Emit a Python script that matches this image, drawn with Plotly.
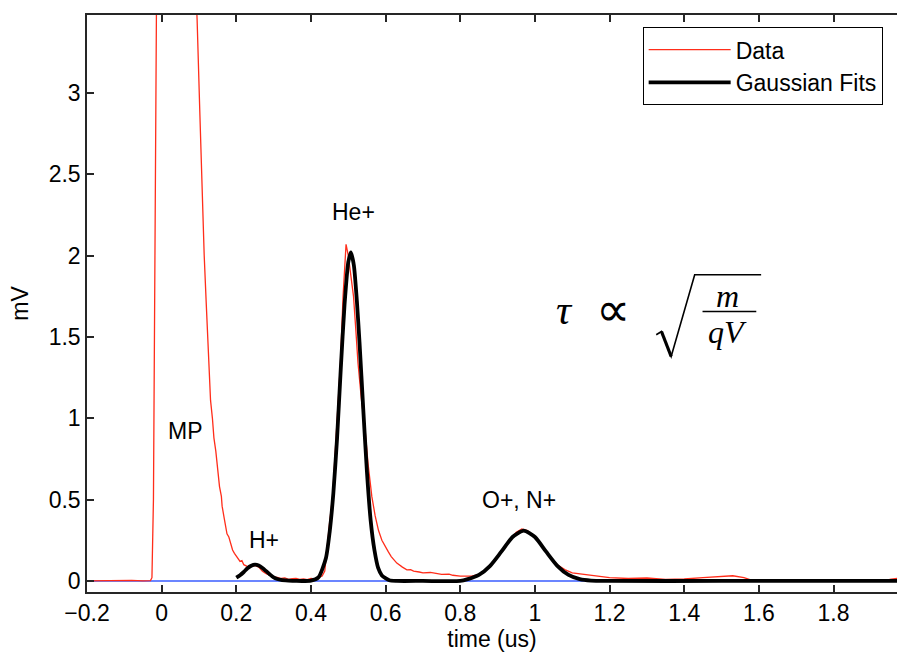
import plotly.graph_objects as go

# ---- Data ----
data_t = [-0.2, -0.16, -0.12, -0.08, -0.05, -0.03, -0.026, -0.022, -0.018, -0.014, -0.01,
          0.02, 0.06, 0.085, 0.095, 0.102, 0.109, 0.114, 0.119, 0.125, 0.131, 0.136,
          0.140, 0.145, 0.149, 0.155, 0.160, 0.162, 0.168, 0.175, 0.180, 0.185, 0.190,
          0.195, 0.202, 0.210, 0.215, 0.220, 0.229, 0.235, 0.240, 0.250, 0.260, 0.270,
          0.280, 0.290, 0.300, 0.310, 0.320, 0.330, 0.340, 0.350, 0.360, 0.370, 0.380,
          0.390, 0.400, 0.410, 0.420, 0.430, 0.437, 0.443, 0.450, 0.458, 0.468, 0.479,
          0.486, 0.494, 0.500, 0.507, 0.514, 0.520, 0.526, 0.535, 0.545, 0.553, 0.563,
          0.572, 0.581, 0.590, 0.599, 0.607, 0.615, 0.622, 0.630, 0.645, 0.657, 0.667,
          0.675, 0.690, 0.700, 0.720, 0.740, 0.750, 0.770, 0.780, 0.800, 0.820, 0.830,
          0.850, 0.870, 0.890, 0.910, 0.930, 0.950, 0.965, 0.980, 1.000, 1.020, 1.040,
          1.060, 1.080, 1.100, 1.130, 1.160, 1.200, 1.250, 1.300, 1.350, 1.400, 1.450,
          1.480, 1.500, 1.530, 1.560, 1.580, 1.650, 1.700, 1.800, 1.900, 1.950, 1.980]
data_mv = [0.0, 0.002, 0.0, 0.003, 0.0, 0.002, 0.02, 0.5, 2.0, 3.8, 5.0,
           6.0, 5.5, 4.0, 3.45, 2.9, 2.34, 2.0, 1.73, 1.40, 1.11, 1.0,
           0.88, 0.80, 0.70, 0.58, 0.52, 0.46, 0.38, 0.29, 0.27, 0.22, 0.19,
           0.17, 0.15, 0.12, 0.125, 0.10, 0.09, 0.08, 0.09, 0.095, 0.085, 0.06,
           0.045, 0.035, 0.025, 0.022, 0.015, 0.018, 0.01, 0.014, 0.015, 0.01, 0.012,
           0.008, 0.015, 0.012, 0.02, 0.03, 0.06, 0.21, 0.36, 0.52, 0.93, 1.34,
           1.75, 2.07, 2.0, 1.88, 1.75, 1.55, 1.34, 1.12, 0.93, 0.72, 0.52,
           0.40, 0.31, 0.25, 0.21, 0.18, 0.15, 0.13, 0.11, 0.085, 0.068, 0.07,
           0.06, 0.055, 0.05, 0.052, 0.045, 0.04, 0.042, 0.035, 0.03, 0.033, 0.03,
           0.04, 0.07, 0.12, 0.18, 0.25, 0.30, 0.32, 0.31, 0.27, 0.21, 0.15,
           0.10, 0.07, 0.05, 0.04, 0.03, 0.02, 0.015, 0.018, 0.01, 0.012, 0.02,
           0.025, 0.03, 0.032, 0.02, 0.005, 0.006, 0.003, 0.005, 0.004, 0.01, 0.018]

fit_t = [0.20, 0.21, 0.22, 0.23, 0.24, 0.25, 0.26, 0.27, 0.28, 0.29, 0.30, 0.31, 0.32,
         0.34, 0.36, 0.40, 0.42, 0.44, 0.45, 0.46, 0.47, 0.48, 0.49, 0.50, 0.507, 0.515,
         0.523, 0.53, 0.54, 0.55, 0.56, 0.57, 0.58, 0.59, 0.61, 0.63, 0.70, 0.80, 0.82,
         0.85, 0.88, 0.91, 0.94, 0.97, 1.00, 1.03, 1.06, 1.09, 1.12, 1.15, 1.20, 1.50,
         1.98]
fit_mv = [0.02, 0.035, 0.055, 0.078, 0.093, 0.10, 0.095, 0.08, 0.06, 0.04, 0.022, 0.012, 0.006,
          0.002, 0.0, 0.002, 0.022, 0.14, 0.30, 0.54, 0.88, 1.31, 1.70, 1.96, 2.02, 1.94,
          1.72, 1.47, 1.06, 0.67, 0.37, 0.19, 0.08, 0.034, 0.004, 0.0, 0.0, 0.0, 0.011,
          0.037, 0.093, 0.18, 0.27, 0.31, 0.27, 0.18, 0.093, 0.037, 0.011, 0.002, 0.0, 0.0,
          0.0]

zero_t = [-0.2, 1.98]
zero_mv = [0.0, 0.0]

x_ticks = [-0.2, 0, 0.2, 0.4, 0.6, 0.8, 1.0, 1.2, 1.4, 1.6, 1.8]
x_labels = ["\u22120.2", "0", "0.2", "0.4", "0.6", "0.8", "1", "1.2", "1.4", "1.6", "1.8"]
y_ticks = [0, 0.5, 1, 1.5, 2, 2.5, 3]
y_labels = ["0", "0.5", "1", "1.5", "2", "2.5", "3"]

peak_labels = ["MP", "H+", "He+", "O+, N+"]
peak_t = [0.065, 0.273, 0.513, 0.957]
peak_mv = [0.92, 0.25, 2.27, 0.50]

FONT = "Liberation Sans, Arial, Helvetica, sans-serif"
SERIF = "Liberation Serif, Times New Roman, serif"
AX = "#262626"
FS = 23

fig = go.Figure()
fig.add_trace(go.Scatter(x=zero_t, y=zero_mv, mode="lines",
                         line=dict(color="#3a5cff", width=1.5), showlegend=False,
                         hoverinfo="skip"))
fig.add_trace(go.Scatter(x=data_t, y=data_mv, mode="lines", name="Data",
                         line=dict(color="#ff2d1a", width=1.3)))
fig.add_trace(go.Scatter(x=fit_t, y=fit_mv, mode="lines", name="Gaussian Fits",
                         line=dict(color="black", width=3.8, shape="spline", smoothing=0.6)))

for lab, tx, ty in zip(peak_labels, peak_t, peak_mv):
    fig.add_annotation(x=tx, y=ty, text=lab, showarrow=False,
                       font=dict(family=FONT, size=FS, color="black"))

# formula tau ∝ sqrt(m / qV)
fig.add_annotation(x=1.080, y=1.668, text="<i>τ</i>", showarrow=False,
                   font=dict(family=SERIF, size=42, color="black"))
fig.add_annotation(x=1.209, y=1.668, text="∝", showarrow=False,
                   font=dict(family=SERIF, size=48, color="black"))
fig.add_annotation(x=1.515, y=1.752, text="<i>m</i>", showarrow=False,
                   font=dict(family=SERIF, size=32, color="black"))
fig.add_annotation(x=1.515, y=1.530, text="<i>qV</i>", showarrow=False,
                   font=dict(family=SERIF, size=32, color="black"))
fig.add_shape(type="line", x0=1.449, x1=1.593, y0=1.657, y1=1.657,
              line=dict(color="black", width=1.5))
fig.add_shape(type="path",
              path="M 1.325 1.514 L 1.339 1.534 L 1.365 1.380 L 1.428 1.883 L 1.606 1.883",
              line=dict(color="black", width=1.6))
fig.add_shape(type="line", x0=1.339, x1=1.365, y0=1.534, y1=1.380,
              line=dict(color="black", width=3.2))

fig.update_layout(
    width=897, height=655,
    margin=dict(l=87, r=0, t=15, b=63),
    paper_bgcolor="white", plot_bgcolor="white",
    font=dict(family=FONT, size=FS, color="black"),
    showlegend=True,
    legend=dict(x=0.686, y=0.979, xanchor="left", yanchor="top",
                bgcolor="white", bordercolor="black", borderwidth=1,
                font=dict(family=FONT, size=FS, color="black"),
                itemwidth=82, tracegroupgap=0),
    xaxis=dict(range=[-0.2, 1.97], tickvals=x_ticks, ticktext=x_labels,
               ticks="inside", ticklen=7, tickwidth=1.5, tickcolor=AX,
               showline=True, linecolor=AX, linewidth=1.5, mirror="ticks",
               showgrid=False, zeroline=False,
               tickfont=dict(family=FONT, size=FS, color="black"),
               title=dict(text="time (us)", standoff=0,
                          font=dict(family=FONT, size=FS, color="black"))),
    yaxis=dict(range=[-0.068, 3.48], tickvals=y_ticks, ticktext=y_labels,
               ticks="inside", ticklen=7, tickwidth=1.5, tickcolor=AX,
               showline=True, linecolor=AX, linewidth=1.5, mirror=False,
               showgrid=False, zeroline=False,
               tickfont=dict(family=FONT, size=FS, color="black"),
               title=dict(text="mV", standoff=14,
                          font=dict(family=FONT, size=FS, color="black"))),
)

fig.write_html("out.html", config={"displayModeBar": False},
               post_script="document.body.style.margin='0';document.body.style.overflow='hidden';")
